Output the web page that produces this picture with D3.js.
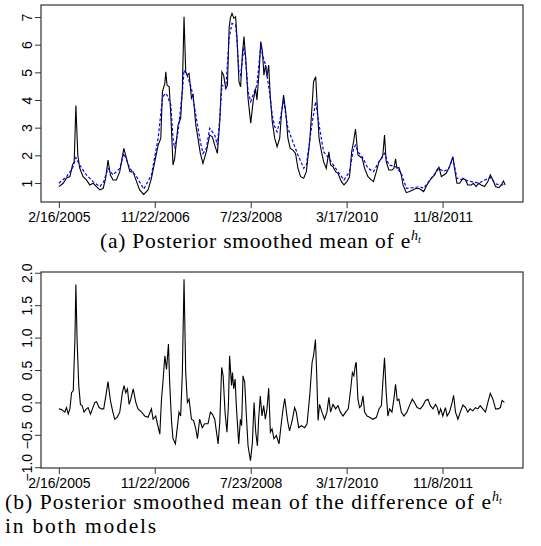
<!DOCTYPE html>
<html>
<head>
<meta charset="utf-8">
<script src="https://cdn.jsdelivr.net/npm/d3@7"></script>
<style>
  body { margin: 0; background: #fff; }
  svg { display: block; }
  .tick text { font-family: "Liberation Sans", Arial, sans-serif; }
  .cap { font-family: "Liberation Serif", "DejaVu Serif", serif; fill: #000; }
</style>
</head>
<body>
<svg id="fig" width="541" height="546"></svg>
<script>
// observation index of each tick label
var tickIdx = [0, 400, 800, 1200, 1600];
var tickLabels = ["2/16/2005", "11/22/2006", "7/23/2008", "3/17/2010", "11/8/2011"];
var yTicksTop = [1, 2, 3, 4, 5, 6, 7];
var yTicksBottom = [-1.0, -0.5, 0.0, 0.5, 1.0, 1.5, 2.0];

// panel (a): black solid line
var blackIdx = [0,18,32,46,57,64,71,79,87,101,115,129,143,157,171,185,195,205,215,226,240,254,271,282,296,310,324,337,354,372,386,400,414,425,432,442,446,451,460,467,476,483,497,508,515,522,529,535,543,553,560,571,580,590,601,615,629,640,650,661,671,680,687,696,703,710,715,722,730,737,743,751,758,765,772,779,789,800,810,820,826,835,842,849,855,862,868,875,882,890,900,910,921,928,937,946,955,965,976,987,997,1008,1021,1032,1046,1057,1062,1071,1078,1085,1095,1104,1115,1126,1133,1143,1154,1164,1178,1189,1201,1212,1221,1229,1237,1247,1257,1265,1275,1289,1303,1312,1324,1335,1345,1351,1358,1365,1376,1390,1397,1404,1410,1418,1428,1435,1449,1462,1476,1490,1504,1521,1535,1553,1567,1576,1585,1595,1605,1615,1626,1636,1643,1650,1660,1671,1685,1696,1705,1720,1729,1740,1751,1761,1775,1789,1799,1810,1821,1835,1845,1854,1861];
var blackVal = [0.87,0.99,1.18,1.23,1.65,1.77,3.80,2.01,1.54,1.23,1.11,0.93,0.99,0.87,0.75,0.81,1.17,1.83,1.29,1.11,1.11,1.41,2.25,1.89,1.41,1.40,1.05,0.75,0.59,0.75,1.17,1.77,2.37,2.61,4.30,4.60,5.02,4.54,4.48,3.46,1.65,1.89,3.10,3.34,4.42,7.01,5.02,4.90,4.96,4.06,4.18,3.10,2.62,2.07,1.71,2.13,2.73,2.67,2.37,2.07,3.22,5.02,4.90,4.42,4.54,6.59,6.95,7.13,6.95,7.01,6.23,4.66,4.48,5.63,6.29,5.51,4.06,3.16,3.94,4.42,4.00,5.02,6.11,5.75,4.90,5.26,4.84,5.26,4.06,3.22,2.62,2.31,2.62,3.46,4.18,3.58,2.62,2.25,2.19,2.07,1.53,1.23,1.17,1.41,2.49,3.94,4.66,4.84,3.70,2.62,2.13,1.77,1.53,2.13,1.65,1.59,1.41,1.35,1.05,0.93,1.05,1.22,2.13,2.50,2.95,2.01,1.95,1.89,1.53,1.23,1.11,1.05,1.41,1.77,1.89,2.01,2.73,1.77,1.47,1.47,1.53,1.87,1.53,1.56,1.29,0.93,0.65,0.69,0.75,0.81,0.79,0.69,0.93,1.17,1.29,1.47,1.57,1.23,1.29,1.35,1.53,1.77,1.95,1.53,0.99,0.99,1.17,1.11,0.93,0.93,0.99,0.87,0.99,0.93,0.87,1.05,1.29,1.11,0.87,0.83,0.93,1.07,0.93];

// panel (a): blue dashed line
var blueIdx = [0,32,57,71,87,115,143,171,187,205,226,254,271,296,324,354,386,414,432,442,451,467,476,483,497,515,522,535,553,571,590,601,615,629,650,661,671,680,696,710,722,737,743,751,758,772,779,789,800,810,826,842,849,862,882,890,900,910,921,937,955,976,997,1021,1032,1057,1071,1085,1104,1126,1154,1189,1212,1229,1237,1247,1265,1289,1312,1335,1351,1358,1376,1404,1428,1449,1476,1504,1521,1553,1585,1605,1626,1643,1660,1685,1720,1751,1799,1821,1845,1861];
var blueVal = [0.99,1.23,1.53,1.92,1.65,1.29,1.05,0.87,1.05,1.53,1.29,1.53,2.07,1.53,1.23,0.78,1.29,2.61,4.06,4.24,4.18,3.82,2.61,2.25,2.85,4.30,5.08,4.90,4.42,3.46,2.49,2.07,2.25,2.98,2.73,2.37,3.34,4.54,4.42,6.23,6.77,6.71,6.11,5.02,4.90,5.93,5.51,4.30,3.94,4.18,4.54,5.99,5.63,5.26,4.06,3.46,3.04,2.85,3.22,4.00,2.98,2.49,2.01,1.53,1.65,3.22,3.94,3.10,2.13,1.89,1.53,1.11,1.41,2.25,2.37,2.13,1.95,1.53,1.41,1.77,1.95,2.07,1.65,1.59,1.35,0.81,0.83,0.87,0.81,1.17,1.53,1.41,1.53,1.89,1.17,1.12,1.05,1.00,1.20,0.97,0.92,0.97];

// panel (b): difference
var diffIdx = [0,11,25,32,39,46,53,60,67,71,76,83,90,97,105,115,122,132,140,150,157,168,178,187,196,205,215,224,233,243,254,265,272,279,286,293,300,310,321,330,345,358,372,386,393,404,411,421,428,434,442,449,457,462,470,476,486,495,501,508,515,522,529,536,543,553,562,571,578,587,598,608,622,632,640,650,664,671,679,685,693,701,707,712,720,724,729,735,740,750,757,762,768,775,782,789,799,807,814,821,828,833,840,847,854,861,868,875,882,889,897,907,918,928,935,942,949,955,962,974,983,990,1000,1011,1025,1035,1046,1056,1062,1070,1075,1081,1087,1097,1108,1118,1126,1133,1143,1154,1164,1174,1185,1196,1207,1217,1224,1230,1237,1240,1247,1254,1261,1268,1275,1285,1296,1310,1324,1335,1345,1351,1358,1365,1372,1379,1389,1397,1404,1411,1418,1428,1439,1451,1462,1474,1483,1494,1507,1518,1529,1539,1549,1560,1571,1578,1585,1592,1601,1612,1619,1629,1640,1646,1654,1664,1674,1685,1696,1705,1715,1726,1737,1747,1757,1768,1779,1789,1799,1810,1821,1832,1841,1848,1858];
var diffVal = [-0.10,-0.11,-0.15,-0.08,-0.18,-0.10,0.15,0.18,0.97,1.82,0.97,0.26,-0.03,-0.05,-0.15,-0.10,-0.08,-0.18,-0.10,0.00,0.01,-0.08,-0.10,-0.10,0.10,0.32,0.03,-0.13,-0.26,-0.23,-0.15,0.15,0.26,0.15,0.21,-0.03,0.05,0.21,0.00,-0.10,-0.15,-0.21,-0.23,-0.10,-0.26,-0.21,-0.33,-0.49,0.05,0.31,0.72,0.51,0.90,0.31,-0.30,-0.56,-0.64,-0.35,-0.15,-0.21,0.46,1.90,0.46,0.00,0.05,-0.26,-0.28,-0.41,-0.56,-0.26,-0.39,-0.33,-0.33,-0.15,-0.18,-0.26,-0.64,-0.31,0.54,0.41,-0.15,-0.46,-0.05,0.72,0.26,0.46,0.21,0.36,-0.05,-0.64,-0.26,-0.36,0.41,0.31,-0.21,-0.67,-0.90,-0.62,0.00,-0.46,-0.67,-0.26,0.10,-0.21,-0.05,-0.26,-0.10,0.22,-0.46,-0.41,-0.56,-0.51,-0.64,-0.31,-0.10,0.06,-0.15,-0.31,-0.44,-0.26,-0.08,-0.15,-0.39,-0.36,-0.39,-0.33,0.10,0.62,0.72,0.97,0.46,-0.28,-0.03,-0.15,-0.26,-0.15,0.08,-0.15,-0.03,-0.10,-0.05,-0.15,-0.21,-0.15,-0.10,0.21,0.46,0.41,0.59,0.62,0.05,-0.08,-0.05,0.10,-0.15,-0.21,-0.23,-0.26,-0.23,-0.10,-0.05,0.31,0.69,0.15,-0.21,-0.10,-0.15,0.05,0.28,0.03,0.05,-0.15,-0.21,-0.15,-0.05,0.05,0.00,-0.08,-0.10,-0.05,0.03,0.05,-0.05,-0.10,-0.03,-0.08,-0.18,-0.10,-0.21,-0.08,-0.21,-0.15,0.00,0.11,-0.15,-0.26,-0.15,-0.04,-0.08,-0.15,-0.10,-0.13,-0.08,-0.10,-0.05,-0.10,-0.15,0.00,0.14,0.05,-0.10,-0.10,-0.08,0.03,0.00];

var svg = d3.select("#fig");
var left = 41, right = 523;

// R style: 4% padding round the data range
function padDomain(lo, hi){
    var d = (hi - lo) * 0.04;
    return [lo - d, hi + d];
}

var x = d3.scaleLinear()
    .domain(padDomain(0, d3.max(blackIdx)))
    .range([left, right]);

function drawPanel(top, bottom, yDomain, yTicks, yFmt){
    var y = d3.scaleLinear().domain(yDomain).range([bottom, top]);
    var g = svg.append("g");

    g.append("g")
        .attr("transform", "translate(0," + bottom + ")")
        .call(d3.axisBottom(x).tickValues(tickIdx)
            .tickFormat(function(d, i){ return tickLabels[i]; })
            .tickSize(6).tickPadding(4).tickSizeOuter(0))
        .call(function(a){
            a.select(".domain").remove();
            a.selectAll("text").attr("font-size", 14).attr("fill", "#000");
            a.selectAll("line").attr("stroke", "#333");
        });

    var ya = g.append("g")
        .attr("transform", "translate(" + left + ",0)")
        .call(d3.axisLeft(y).tickValues(yTicks).tickFormat(yFmt)
            .tickSize(6).tickSizeOuter(0));
    ya.select(".domain").remove();
    ya.selectAll("line").attr("stroke", "#333");
    ya.selectAll("text")
        .attr("font-size", 14).attr("fill", "#000")
        .attr("x", null).attr("dy", null)
        .attr("text-anchor", "middle")
        .attr("transform", "translate(-9,0) rotate(-90)");

    g.append("rect")
        .attr("x", left).attr("y", top)
        .attr("width", right - left).attr("height", bottom - top)
        .attr("fill", "none").attr("stroke", "#333").attr("stroke-width", 1.2);
    return y;
}

// panel (a)
var yA = drawPanel(5, 202, [0.313, 7.434], yTicksTop, d3.format("d"));
var lineA = d3.line().x(function(d){ return x(d[0]); }).y(function(d){ return yA(d[1]); });
svg.append("path")
    .datum(d3.zip(blackIdx, blackVal))
    .attr("d", lineA)
    .attr("fill", "none").attr("stroke", "#000").attr("stroke-width", 1.1);
svg.append("path")
    .datum(d3.zip(blueIdx, blueVal))
    .attr("d", lineA)
    .attr("fill", "none").attr("stroke", "#0000ff").attr("stroke-width", 1.2)
    .attr("stroke-dasharray", "3,2");

// panel (b)
var yB = drawPanel(272, 468, [-1.012, 2.012], yTicksBottom, function(d){
    return d3.format(".1f")(d).replace("-", "\u2212");
});
var lineB = d3.line().x(function(d){ return x(d[0]); }).y(function(d){ return yB(d[1]); });
svg.append("path")
    .datum(d3.zip(diffIdx, diffVal))
    .attr("d", lineB)
    .attr("fill", "none").attr("stroke", "#000").attr("stroke-width", 1.1);

// captions: computer modern runs wider than our serif, so grow the size a bit
// and make up the rest with letter spacing
function caption(xPos, yPos, text, width, sup){
    var t = svg.append("text").attr("class", "cap")
        .attr("x", xPos).attr("y", yPos).attr("font-size", 21);
    var main = t.append("tspan").text(text);
    var w = main.node().getComputedTextLength();
    var fs = Math.min(21.5, 21 * width / w);
    t.attr("font-size", fs);
    w = main.node().getComputedTextLength();
    main.attr("letter-spacing", ((width - w) / text.length).toFixed(3));
    if (sup){
        t.append("tspan").attr("font-size", 14).attr("font-style", "italic").attr("dy", -8).text("h");
        t.append("tspan").attr("font-size", 10).attr("font-style", "italic").attr("dy", 3).text("t");
    }
    return t;
}
caption(100, 248, "(a) Posterior smoothed mean of e", 311, true);
caption(5, 509, "(b) Posterior smoothed mean of the difference of e", 487, true);
caption(5, 533, "in both models", 153, false);
</script>
</body>
</html>
